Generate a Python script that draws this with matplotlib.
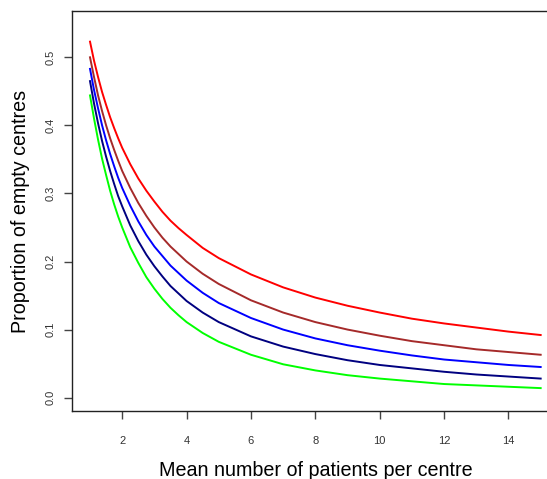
"""Proportion of empty centres vs mean number of patients per centre."""
import matplotlib
matplotlib.use('Agg')
import matplotlib.pyplot as plt

plt.rcParams['font.family'] = ['Liberation Sans', 'DejaVu Sans']

# ── data ──
mean_patients = [1, 1.125, 1.25, 1.375, 1.5, 1.625, 1.75, 1.875, 2,
                 2.25, 2.5, 2.75, 3, 3.25, 3.5, 3.75, 4, 4.5, 5,
                 6, 7, 8, 9, 10, 11, 12, 13, 14, 15]

empty_red = [0.523, 0.495, 0.471, 0.449, 0.430, 0.412, 0.396, 0.381, 0.367,
             0.343, 0.322, 0.304, 0.288, 0.273, 0.260, 0.249, 0.239, 0.220,
             0.205, 0.181, 0.162, 0.147, 0.135, 0.125, 0.116, 0.109, 0.103,
             0.097, 0.092]
empty_brown = [0.500, 0.471, 0.444, 0.421, 0.400, 0.381, 0.364, 0.348, 0.333,
               0.308, 0.286, 0.267, 0.250, 0.235, 0.222, 0.211, 0.200, 0.182,
               0.167, 0.143, 0.125, 0.111, 0.100, 0.091, 0.083, 0.077, 0.071,
               0.067, 0.063]
empty_blue = [0.483, 0.452, 0.425, 0.400, 0.378, 0.358, 0.340, 0.323, 0.308,
              0.282, 0.259, 0.239, 0.222, 0.208, 0.194, 0.183, 0.172, 0.154,
              0.139, 0.117, 0.100, 0.087, 0.077, 0.069, 0.062, 0.056, 0.052,
              0.048, 0.045]
empty_navy = [0.465, 0.432, 0.403, 0.377, 0.354, 0.333, 0.314, 0.296, 0.281,
              0.253, 0.230, 0.210, 0.193, 0.178, 0.164, 0.153, 0.142, 0.125,
              0.111, 0.090, 0.075, 0.064, 0.055, 0.048, 0.043, 0.038, 0.034,
              0.031, 0.028]
empty_green = [0.444, 0.410, 0.379, 0.351, 0.327, 0.304, 0.284, 0.266, 0.250,
               0.221, 0.198, 0.177, 0.160, 0.145, 0.132, 0.121, 0.111, 0.095,
               0.082, 0.063, 0.049, 0.040, 0.033, 0.028, 0.024, 0.020, 0.018,
               0.016, 0.014]

series = [
    (empty_red, '#FF0000'),
    (empty_brown, '#A52A2A'),
    (empty_blue, '#0000FF'),
    (empty_navy, '#000080'),
    (empty_green, '#00FF00'),
]

x_ticks = [2, 4, 6, 8, 10, 12, 14]
y_ticks = [0.0, 0.1, 0.2, 0.3, 0.4, 0.5]


def main():
    fig = plt.figure(figsize=(5.47, 4.79), dpi=100)
    # right side of the box falls outside the picture, as in the original
    ax = fig.add_axes([0.1316, 0.142, 0.8898, 0.835])

    for vals, col in series:
        ax.plot(mean_patients, vals, color=col, lw=1.4)

    ax.set_xlim(0.44, 15.56)
    ax.set_ylim(-0.0196, 0.568)
    ax.set_xticks(x_ticks)
    ax.set_yticks(y_ticks)
    ax.set_yticklabels([f'{v:.1f}' for v in y_ticks], rotation=90,
                       va='center')

    for sp in ax.spines.values():
        sp.set_color('#222222')
        sp.set_linewidth(1.0)
    ax.tick_params(axis='both', length=6, width=1.0, color='#444444',
                   labelsize=8, labelcolor='#333333')
    ax.tick_params(axis='x', pad=12)
    ax.tick_params(axis='y', pad=6)

    ax.set_xlabel('Mean number of patients per centre', fontsize=14.2,
                  labelpad=10.5)
    ax.set_ylabel('Proportion of empty centres', fontsize=14.2, labelpad=11)

    fig.savefig('out.png', dpi=100)
    plt.close(fig)


if __name__ == '__main__':
    main()
